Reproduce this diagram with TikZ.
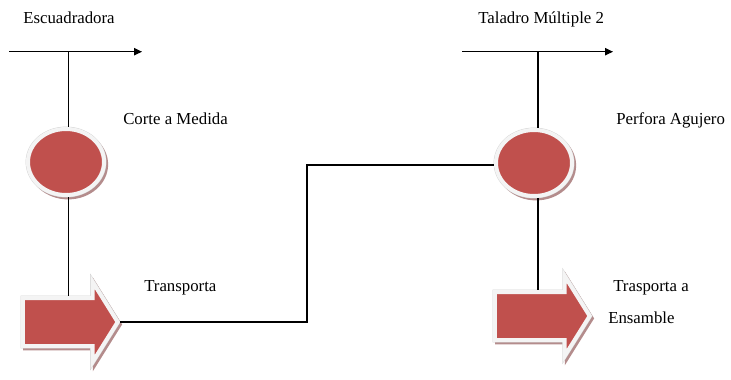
\documentclass[tikz,border=0pt]{standalone}
\usepackage{fontspec}
\setmainfont{Liberation Serif}
\usetikzlibrary{arrows.meta,shapes.geometric,shapes.arrows,shadows}
\usepackage{xcolor}
\definecolor{opred}{HTML}{C0504D}
\definecolor{oprim}{HTML}{F4F4F4}
\definecolor{opedge}{HTML}{D2D2D2}
\definecolor{opshade}{HTML}{B48C8C}

\tikzset{
  lbl/.style={inner sep=0pt, anchor=base west, font=\fontsize{12.6}{15}\selectfont},
  flow/.style={line width=0.9pt, -{Triangle[length=6pt,width=5.5pt]}},
  link/.style={line width=0.8pt},
  opbase/.style={fill=opred, draw=oprim, line width=3pt,
    drop shadow={shadow xshift=1.6pt, shadow yshift=-1.8pt, fill=opshade,
      draw=opshade, line width=3pt, opacity=1},
    preaction={draw=opedge, line width=3.6pt}},
  oper/.style={opbase, ellipse, inner sep=0pt, minimum width=57pt, minimum height=49.5pt},
  move/.style={opbase, single arrow, inner xsep=0pt, inner ysep=16.5pt,
    minimum height=71pt, single arrow head extend=12pt,
    single arrow tip angle=116, anchor=tip},
}

\begin{document}
\begin{tikzpicture}[x=0.75pt, y=-0.75pt]
  \useasboundingbox (0,0) rectangle (731,379);

  % ==================== 1. OPERATIONS AND TRANSPORTS ====================
  \node[oper] (cut) at (66,162) {};
  \node[move] (move1) at (120,322) {};
  \node[oper] (drill) at (534,163) {};
  \node[move] (move2) at (592,316) {};

  % ==================== 2. LABELS ====================
  \node[lbl] (escLbl) at (23,23.5) {Escuadradora};
  \node[lbl] (cutLbl) at (123,124) {Corte a Medida};
  \node[lbl] (move1Lbl) at (144,291) {Transporta};
  \node[lbl] (tmLbl) at (478,23) {Taladro Múltiple 2};
  \node[lbl] (drillLbl) at (616,124) {Perfora Agujero};
  \node[lbl] (move2Lbl) at (613,291) {Trasporta a};
  \node[lbl] (asmLbl) at (608,323) {Ensamble};

  % ==================== 3. MACHINE LINES ====================
  \coordinate (escIn) at (9,51.7);
  \coordinate (escOut) at (142,51.7);
  \coordinate (tmIn) at (462,51.7);
  \coordinate (tmOut) at (613,51.7);
  \coordinate (bend) at (307,165);

  % Escuadradora branch
  \draw[flow] (escIn) -- (escOut);
  \draw[link] ([xshift=2pt]cut.north |- escIn) -- ([xshift=2pt]cut.north);
  \draw[link] ([xshift=2pt]cut.south) -- ([xshift=2pt]cut.south |- move1.90);

  % Transport over to the drill
  \draw[link] (move1.tip) -| (bend) -- (bend -| drill.west);

  % Taladro branch
  \draw[flow] (tmIn) -- (tmOut);
  \draw[link] ([xshift=3pt]drill.north |- tmIn) -- ([xshift=3pt]drill.north);
  \draw[link] ([xshift=3pt]drill.south) -- ([xshift=3pt]drill.south |- move2.90);

\end{tikzpicture}
\end{document}
